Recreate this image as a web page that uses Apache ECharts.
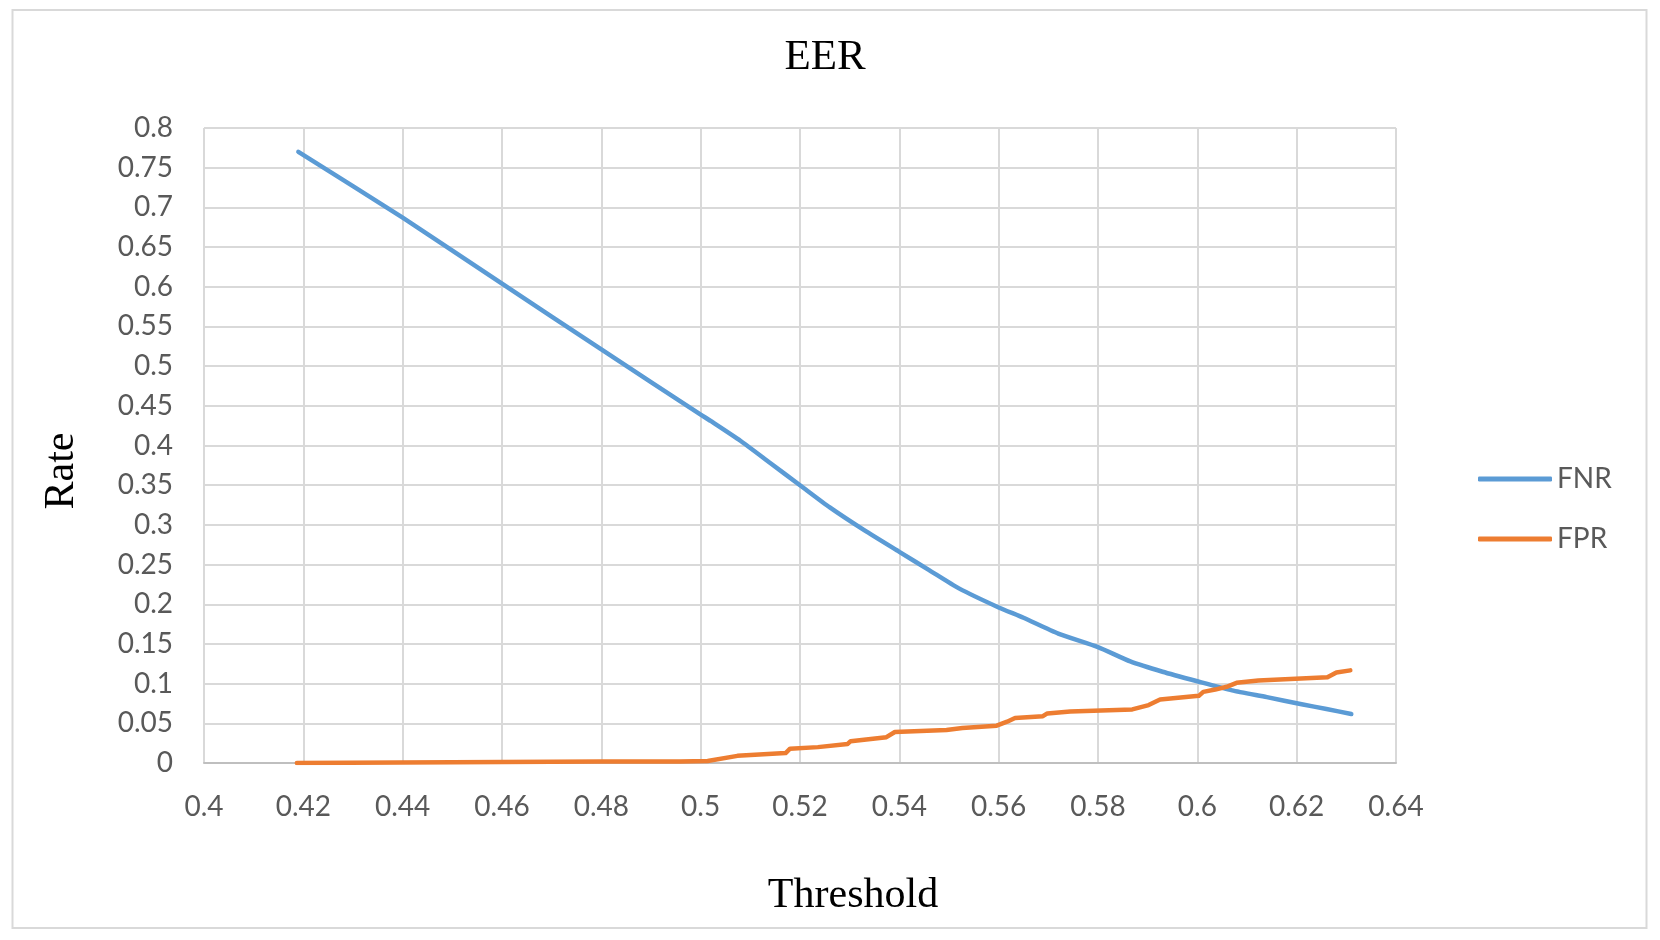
<!DOCTYPE html>
<html>
<head>
<meta charset="utf-8">
<script src="https://cdn.jsdelivr.net/npm/echarts@6/dist/echarts.min.js"></script>
<style>
html,body{margin:0;padding:0;background:#fff;}
#chart{width:1660px;height:940px;}
</style>
</head>
<body>
<div id="chart"></div>
<script>
// ---- data ----
const chartTitle = 'EER';
const xAxisName = 'Threshold';
const yAxisName = 'Rate';
const seriesNames = ['FNR', 'FPR'];

const xMin = 0.4, xMax = 0.64, xStep = 0.02;
const yMin = 0, yMax = 0.8, yStep = 0.05;

const fnrX = [0.419, 0.44, 0.46, 0.48, 0.5, 0.502, 0.508, 0.514, 0.52, 0.526, 0.533, 0.54, 0.546, 0.552, 0.56, 0.565, 0.572, 0.58, 0.5865, 0.593, 0.6, 0.607, 0.614, 0.621, 0.626, 0.631];
const fnrY = [0.770, 0.687, 0.604, 0.521, 0.439, 0.431, 0.406, 0.378, 0.350, 0.322, 0.293, 0.266, 0.243, 0.220, 0.196, 0.183, 0.163, 0.146, 0.128, 0.115, 0.103, 0.0915, 0.083, 0.074, 0.068, 0.0617];

const fprX = [0.4187, 0.45, 0.48, 0.4958, 0.5014, 0.5074, 0.5171, 0.518, 0.5236, 0.5296, 0.5302, 0.5374, 0.5391, 0.5495, 0.5527, 0.5596, 0.5617, 0.5633, 0.5689, 0.5698, 0.5744, 0.5869, 0.5902, 0.5925, 0.6003, 0.6012, 0.6036, 0.6059, 0.6079, 0.6123, 0.6262, 0.628, 0.6308];
const fprY = [0, 0.001, 0.0018, 0.002, 0.0025, 0.009, 0.0125, 0.018, 0.020, 0.024, 0.0275, 0.0325, 0.039, 0.0417, 0.044, 0.047, 0.052, 0.0567, 0.059, 0.0625, 0.065, 0.0675, 0.073, 0.080, 0.0846, 0.0896, 0.0925, 0.096, 0.101, 0.104, 0.108, 0.114, 0.1167];

// ---- chart ----
const pairs = (xs, ys) => xs.map((x, i) => [x, ys[i]]);
const fmt = v => String(+(+v).toFixed(2));
const gridColor = '#d9d9d9';
const labelColor = '#595959';
const sans = 'Lato, "Open Sans", sans-serif';
const serif = '"Liberation Serif", "Times New Roman", serif';

const chart = echarts.init(document.getElementById('chart'), null, {renderer: 'canvas'});
chart.setOption({
  animation: false,
  backgroundColor: '#ffffff',
  grid: {left: 204, right: 264, top: 128, bottom: 177, containLabel: false},
  xAxis: {
    type: 'value', min: xMin, max: xMax, interval: xStep,
    axisLine: {show: true, lineStyle: {color: '#bfbfbf', width: 2}},
    axisTick: {show: false},
    splitLine: {show: true, lineStyle: {color: gridColor, width: 2}},
    axisLabel: {color: labelColor, fontFamily: sans, fontSize: 28, margin: 30, formatter: fmt}
  },
  yAxis: {
    type: 'value', min: yMin, max: yMax, interval: yStep,
    axisLine: {show: false},
    axisTick: {show: false},
    splitLine: {show: true, lineStyle: {color: gridColor, width: 2}},
    axisLabel: {color: labelColor, fontFamily: sans, fontSize: 28, margin: 31, formatter: fmt}
  },
  legend: {
    orient: 'vertical', left: 1473, top: 460,
    itemWidth: 74, itemHeight: 5, itemGap: 32,
    icon: 'roundRect',
    textStyle: {color: labelColor, fontFamily: sans, fontSize: 28, lineHeight: 28},
    data: seriesNames
  },
  graphic: [
    {type: 'rect', shape: {x: 12.5, y: 10, width: 1634, height: 918}, style: {fill: 'none', stroke: gridColor, lineWidth: 2}, silent: true},
    {type: 'text', x: 825, y: 58, style: {text: chartTitle, fontFamily: serif, fontSize: 43, fill: '#000', align: 'center', verticalAlign: 'middle'}},
    {type: 'text', x: 853, y: 896, style: {text: xAxisName, fontFamily: serif, fontSize: 42, fill: '#000', align: 'center', verticalAlign: 'middle'}},
    {type: 'text', x: 62, y: 471, rotation: Math.PI / 2, style: {text: yAxisName, fontFamily: serif, fontSize: 42, fill: '#000', align: 'center', verticalAlign: 'middle'}}
  ],
  series: [
    {name: seriesNames[0], type: 'line', data: pairs(fnrX, fnrY), showSymbol: false, symbol: 'none',
     smooth: 0.2,
     lineStyle: {color: '#5b9bd5', width: 4.5, cap: 'round', join: 'round'}, itemStyle: {color: '#5b9bd5'}},
    {name: seriesNames[1], type: 'line', data: pairs(fprX, fprY), showSymbol: false, symbol: 'none',
     lineStyle: {color: '#ed7d31', width: 4.5, cap: 'round', join: 'round'}, itemStyle: {color: '#ed7d31'}}
  ]
});
</script>
</body>
</html>
